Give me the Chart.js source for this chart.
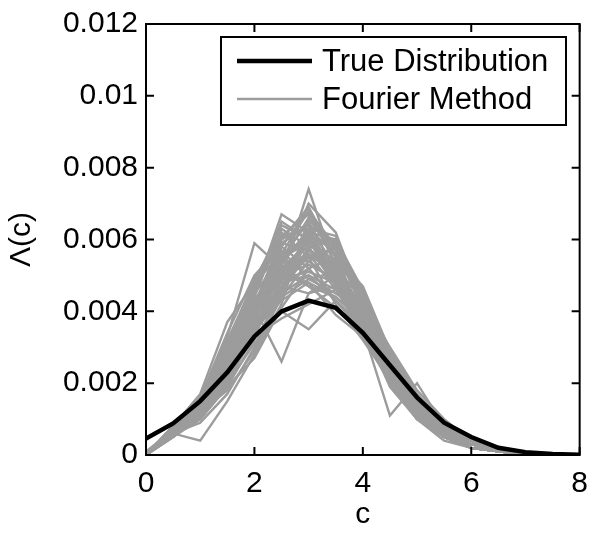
<!DOCTYPE html>
<html>
<head>
<meta charset="utf-8">
<script src="https://cdn.jsdelivr.net/npm/chart.js@4.4.1/dist/chart.umd.min.js"></script>
<style>
  html, body { margin: 0; padding: 0; background: #fff; }
  #wrap { width: 591px; height: 533px; }
</style>
</head>
<body>
<div id="wrap"><canvas id="lambdaChart" width="591" height="533"></canvas></div>
<script>
// c grid (x axis)
const cValues = [0, 0.5, 1, 1.5, 2, 2.5, 3, 3.5, 4, 4.5, 5, 5.5, 6, 6.5, 7, 7.5, 8];

// true distribution (thick black line)
const trueDist = [0.00046, 0.00088, 0.0015, 0.0023, 0.0033, 0.0040, 0.0043, 0.0041, 0.0034, 0.0025, 0.0016, 0.0009, 0.0005, 0.0002, 0.00008, 0.00003, 0.00001];

// estimates by the Fourier method (thin grey lines)
const fourierRuns = [
  [0, 0.0007, 0.0013, 0.0024, 0.0036, 0.0050, 0.0074, 0.0052, 0.0040, 0.0024, 0.0013, 0.0006, 0.0003, 0.0001, 0.00003, 0.00001, 0],
  [0, 0.0008, 0.0015, 0.0030, 0.0045, 0.0067, 0.0062, 0.0050, 0.0037, 0.0022, 0.0012, 0.0006, 0.0003, 0.0001, 0.00004, 0.00001, 0],
  [0.0001, 0.0007, 0.0014, 0.0033, 0.0059, 0.0052, 0.0056, 0.0046, 0.0035, 0.0021, 0.0011, 0.0005, 0.0003, 0.0001, 0.00003, 0, 0],
  [0, 0.0006, 0.0011, 0.0022, 0.0034, 0.0045, 0.0058, 0.0060, 0.0041, 0.0026, 0.0015, 0.0007, 0.0003, 0.0001, 0.00004, 0.00001, 0],
  [0, 0.0006, 0.0004, 0.0015, 0.0028, 0.0042, 0.0066, 0.0055, 0.0039, 0.0025, 0.0014, 0.0007, 0.0003, 0.0001, 0.00003, 0.00001, 0],
  [0, 0.0008, 0.0017, 0.0037, 0.0048, 0.0064, 0.0060, 0.0047, 0.0033, 0.0020, 0.0011, 0.0005, 0.0002, 0.0001, 0.00003, 0, 0],
  [0, 0.0007, 0.0012, 0.0025, 0.0041, 0.0026, 0.0045, 0.0050, 0.0046, 0.0029, 0.0017, 0.0009, 0.0004, 0.0001, 0.00004, 0.00001, 0],
  [0, 0.0006, 0.0010, 0.0020, 0.0031, 0.0040, 0.0035, 0.0043, 0.0036, 0.0026, 0.0016, 0.0008, 0.0004, 0.0002, 0.00005, 0.00001, 0],
  [0, 0.0007, 0.0013, 0.0023, 0.0038, 0.0056, 0.0068, 0.0058, 0.0044, 0.0024, 0.0012, 0.0006, 0.0002, 0.0001, 0.00002, 0, 0],
  [0, 0.0008, 0.0014, 0.0027, 0.0043, 0.0050, 0.0053, 0.0049, 0.0039, 0.0023, 0.0014, 0.0007, 0.0003, 0.0001, 0.00003, 0.00001, 0],
  [0, 0.0007, 0.0012, 0.0018, 0.0029, 0.0044, 0.0061, 0.0057, 0.0043, 0.0028, 0.0015, 0.0008, 0.0003, 0.0001, 0.00004, 0.00001, 0],
  [0, 0.0006, 0.0013, 0.0026, 0.0039, 0.0053, 0.0047, 0.0044, 0.0038, 0.0022, 0.0010, 0.0004, 0.0002, 0.0001, 0.00002, 0, 0],
  [0, 0.0007, 0.0015, 0.0029, 0.0046, 0.0060, 0.0064, 0.0052, 0.0036, 0.0019, 0.0010, 0.0005, 0.0002, 0.0001, 0.00002, 0, 0],
  [0, 0.0006, 0.0009, 0.0017, 0.0030, 0.0047, 0.0057, 0.0053, 0.0046, 0.0027, 0.0013, 0.0006, 0.0003, 0.0001, 0.00003, 0.00001, 0],
  [0, 0.0005, 0.0011, 0.0021, 0.0035, 0.0052, 0.0059, 0.0054, 0.0035, 0.0011, 0.0020, 0.0008, 0.0004, 0.0001, 0.00002, 0, 0],
  [0, 0.0007, 0.0014, 0.0028, 0.0040, 0.0049, 0.0060, 0.0050, 0.0042, 0.0025, 0.0015, 0.0007, 0.0003, 0.0001, 0.00003, 0.00001, 0],
  [0, 0.0008, 0.0016, 0.0031, 0.0049, 0.0062, 0.0055, 0.0042, 0.0032, 0.0021, 0.0012, 0.0005, 0.0002, 0.0001, 0.00002, 0, 0],
  [0, 0.0006, 0.0012, 0.0024, 0.0033, 0.0038, 0.0042, 0.0046, 0.0043, 0.0030, 0.0018, 0.0010, 0.0004, 0.0002, 0.00005, 0.00001, 0],
  [0, 0.0007, 0.0013, 0.0022, 0.0037, 0.0055, 0.0065, 0.0051, 0.0038, 0.0023, 0.0012, 0.0005, 0.0002, 0.0001, 0.00002, 0, 0],
  [0, 0.0006, 0.0011, 0.0020, 0.0034, 0.0049, 0.0051, 0.0048, 0.0041, 0.0026, 0.0014, 0.0007, 0.0003, 0.0001, 0.00003, 0.00001, 0],
  [0, 0.0008, 0.0014, 0.0025, 0.0041, 0.0057, 0.0049, 0.0045, 0.0040, 0.0024, 0.0013, 0.0006, 0.0003, 0.0001, 0.00003, 0, 0],
  [0, 0.0007, 0.0012, 0.0023, 0.0036, 0.0046, 0.0063, 0.0056, 0.0037, 0.0021, 0.0011, 0.0005, 0.0002, 0.0001, 0.00002, 0, 0],
  [0, 0.0005, 0.0010, 0.0019, 0.0032, 0.0044, 0.0054, 0.0058, 0.0045, 0.0028, 0.0016, 0.0008, 0.0004, 0.0001, 0.00004, 0.00001, 0],
  [0, 0.0007, 0.0013, 0.0026, 0.0044, 0.0063, 0.0058, 0.0047, 0.0035, 0.0022, 0.0012, 0.0006, 0.0002, 0.0001, 0.00002, 0, 0],
  [0, 0.0006, 0.0012, 0.0024, 0.0038, 0.0051, 0.0056, 0.0052, 0.0039, 0.0025, 0.0014, 0.0007, 0.0003, 0.0001, 0.00003, 0.00001, 0],
  [0, 0.0007, 0.0014, 0.0027, 0.0035, 0.0043, 0.0048, 0.0039, 0.0033, 0.0023, 0.0015, 0.0008, 0.0004, 0.0001, 0.00004, 0.00001, 0],
  [0, 0.0006, 0.0011, 0.0022, 0.0040, 0.0058, 0.0068, 0.0053, 0.0036, 0.0020, 0.0010, 0.0005, 0.0002, 0.0001, 0.00002, 0, 0],
  [0, 0.0007, 0.0013, 0.0025, 0.0037, 0.0047, 0.0052, 0.0055, 0.0047, 0.0029, 0.0015, 0.0007, 0.0003, 0.0001, 0.00003, 0.00001, 0],
  [0, 0.0008, 0.0015, 0.0029, 0.0042, 0.0054, 0.0061, 0.0049, 0.0038, 0.0024, 0.0013, 0.0006, 0.0003, 0.0001, 0.00003, 0, 0],
  [0, 0.0006, 0.0012, 0.0021, 0.0033, 0.0049, 0.0057, 0.0051, 0.0040, 0.0025, 0.0013, 0.0006, 0.0003, 0.0001, 0.00003, 0.00001, 0],
  [0, 0.0007, 0.0013, 0.0024, 0.0039, 0.0053, 0.0070, 0.0062, 0.0042, 0.0023, 0.0011, 0.0005, 0.0002, 0.0001, 0.00002, 0, 0],
  [0, 0.0006, 0.0012, 0.0023, 0.0035, 0.0045, 0.0050, 0.0046, 0.0042, 0.0027, 0.0016, 0.0008, 0.0003, 0.0001, 0.00004, 0.00001, 0],
  [0, 0.0007, 0.0014, 0.0026, 0.0042, 0.0048, 0.0055, 0.0053, 0.0040, 0.0024, 0.0012, 0.0006, 0.0003, 0.0001, 0.00003, 0, 0],
  [0, 0.0007, 0.0012, 0.0023, 0.0038, 0.0054, 0.0066, 0.0057, 0.0041, 0.0023, 0.0012, 0.0005, 0.0002, 0.0001, 0.00002, 0, 0],
  [0, 0.0006, 0.0013, 0.0025, 0.0041, 0.0050, 0.0048, 0.0044, 0.0037, 0.0026, 0.0015, 0.0007, 0.0003, 0.0001, 0.00003, 0.00001, 0],
  [0, 0.0007, 0.0016, 0.0034, 0.0050, 0.0058, 0.0052, 0.0043, 0.0034, 0.0021, 0.0011, 0.0005, 0.0002, 0.0001, 0.00002, 0, 0],
  [0, 0.0006, 0.0012, 0.0027, 0.0045, 0.0055, 0.0059, 0.0054, 0.0038, 0.0022, 0.0012, 0.0006, 0.0003, 0.0001, 0.00003, 0, 0],
  [0, 0.0008, 0.0015, 0.0030, 0.0047, 0.0061, 0.0063, 0.0050, 0.0035, 0.0020, 0.0010, 0.0005, 0.0002, 0.0001, 0.00002, 0, 0],
  [0, 0.0006, 0.0010, 0.0019, 0.0027, 0.0041, 0.0052, 0.0055, 0.0044, 0.0029, 0.0016, 0.0008, 0.0004, 0.0001, 0.00004, 0.00001, 0],
  [0, 0.0007, 0.0014, 0.0028, 0.0044, 0.0047, 0.0045, 0.0047, 0.0039, 0.0025, 0.0014, 0.0007, 0.0003, 0.0001, 0.00003, 0, 0],
  [0, 0.0005, 0.0011, 0.0024, 0.0040, 0.0059, 0.0064, 0.0059, 0.0043, 0.0024, 0.0012, 0.0005, 0.0002, 0.0001, 0.00002, 0, 0],
  [0, 0.0007, 0.0013, 0.0026, 0.0043, 0.0054, 0.0054, 0.0048, 0.0036, 0.0023, 0.0013, 0.0007, 0.0003, 0.0001, 0.00003, 0.00001, 0],
  [0, 0.0008, 0.0016, 0.0032, 0.0048, 0.0056, 0.0060, 0.0049, 0.0037, 0.0023, 0.0012, 0.0006, 0.0003, 0.0001, 0.00003, 0, 0],
  [0, 0.0006, 0.0012, 0.0022, 0.0035, 0.0054, 0.0062, 0.0060, 0.0046, 0.0026, 0.0013, 0.0006, 0.0002, 0.0001, 0.00002, 0, 0],
  [0, 0.0007, 0.0014, 0.0029, 0.0043, 0.0048, 0.0050, 0.0043, 0.0035, 0.0024, 0.0014, 0.0007, 0.0003, 0.0001, 0.00003, 0.00001, 0],
  [0, 0.0006, 0.0011, 0.0021, 0.0039, 0.0061, 0.0067, 0.0058, 0.0040, 0.0022, 0.0011, 0.0005, 0.0002, 0.0001, 0.00002, 0, 0],
  [0, 0.0007, 0.0012, 0.0024, 0.0041, 0.0052, 0.0058, 0.0056, 0.0045, 0.0027, 0.0014, 0.0006, 0.0003, 0.0001, 0.00003, 0, 0],
  [0, 0.0008, 0.0015, 0.0031, 0.0046, 0.0051, 0.0047, 0.0041, 0.0034, 0.0023, 0.0013, 0.0006, 0.0003, 0.0001, 0.00003, 0.00001, 0],
  [0, 0.0006, 0.0013, 0.0027, 0.0042, 0.0060, 0.0069, 0.0055, 0.0037, 0.0020, 0.0010, 0.0005, 0.0002, 0.0001, 0.00002, 0, 0],
  [0, 0.0007, 0.0013, 0.0025, 0.0038, 0.0050, 0.0061, 0.0058, 0.0042, 0.0025, 0.0013, 0.0006, 0.0003, 0.0001, 0.00003, 0.00001, 0],
  [0, 0.0006, 0.0012, 0.0026, 0.0046, 0.0065, 0.0060, 0.0048, 0.0036, 0.0022, 0.0011, 0.0005, 0.0002, 0.0001, 0.00002, 0, 0],
  [0, 0.0007, 0.0014, 0.0025, 0.0036, 0.0044, 0.0049, 0.0051, 0.0044, 0.0028, 0.0015, 0.0008, 0.0004, 0.0001, 0.00004, 0.00001, 0],
  [0, 0.0007, 0.0013, 0.0028, 0.0047, 0.0059, 0.0057, 0.0052, 0.0040, 0.0023, 0.0012, 0.0006, 0.0002, 0.0001, 0.00002, 0, 0],
  [0, 0.0006, 0.0011, 0.0023, 0.0040, 0.0053, 0.0063, 0.0061, 0.0044, 0.0025, 0.0013, 0.0006, 0.0003, 0.0001, 0.00003, 0, 0],
  [0, 0.0008, 0.0015, 0.0028, 0.0040, 0.0046, 0.0056, 0.0050, 0.0038, 0.0024, 0.0014, 0.0007, 0.0003, 0.0001, 0.00003, 0.00001, 0]
];

const xTicks = [0, 2, 4, 6, 8];
const yTicks = [0, 0.002, 0.004, 0.006, 0.008, 0.01, 0.012];

const FONT = '"Liberation Sans", Arial, Helvetica, sans-serif';

function toPoints(ys) {
  return cValues.map((c, i) => ({ x: c, y: ys[i] }));
}

const datasets = [{
  label: 'True Distribution',
  data: toPoints(trueDist),
  borderColor: '#000000',
  borderWidth: 4.5,
  pointRadius: 0,
  tension: 0
}];
fourierRuns.forEach((run, i) => {
  datasets.push({
    label: i === 0 ? 'Fourier Method' : '',
    data: toPoints(run),
    borderColor: '#9c9c9c',
    borderWidth: 2.4,
    pointRadius: 0,
    tension: 0
  });
});

// box around the axes, inward ticks on all sides, boxed legend (matlab look)
const matlabBox = {
  id: 'matlabBox',
  afterDraw(chart) {
    const ctx = chart.ctx;
    const a = chart.chartArea;
    const xs = chart.scales.x, ys = chart.scales.y;
    const tl = 8;
    ctx.save();
    ctx.strokeStyle = '#000';
    ctx.lineWidth = 2;
    ctx.strokeRect(a.left, a.top, a.right - a.left, a.bottom - a.top);
    ctx.beginPath();
    xTicks.forEach(v => {
      const px = xs.getPixelForValue(v);
      ctx.moveTo(px, a.bottom); ctx.lineTo(px, a.bottom - tl);
      ctx.moveTo(px, a.top); ctx.lineTo(px, a.top + tl);
    });
    yTicks.forEach(v => {
      const py = ys.getPixelForValue(v);
      ctx.moveTo(a.left, py); ctx.lineTo(a.left + tl, py);
      ctx.moveTo(a.right, py); ctx.lineTo(a.right - tl, py);
    });
    ctx.stroke();

    // legend
    const lx = 221, ly = 37, lw = 345, lh = 88;
    ctx.fillStyle = '#fff';
    ctx.fillRect(lx, ly, lw, lh);
    ctx.strokeRect(lx, ly, lw, lh);
    const entries = [chart.data.datasets[0], chart.data.datasets[1]];
    ctx.font = '31px ' + FONT;
    ctx.textBaseline = 'middle';
    entries.forEach((ds, i) => {
      const y = ly + 24 + i * 38;
      ctx.beginPath();
      ctx.strokeStyle = ds.borderColor;
      ctx.lineWidth = ds.borderWidth;
      ctx.moveTo(237, y); ctx.lineTo(312, y);
      ctx.stroke();
      ctx.fillStyle = '#000';
      ctx.fillText(ds.label, 322, y + 1);
    });
    ctx.restore();
  }
};

new Chart(document.getElementById('lambdaChart'), {
  type: 'line',
  data: { datasets: datasets },
  plugins: [matlabBox],
  options: {
    responsive: false,
    animation: false,
    layout: { padding: { left: 0, right: 5, top: 24, bottom: 0 } },
    plugins: {
      legend: { display: false },
      tooltip: { enabled: false }
    },
    scales: {
      x: {
        type: 'linear',
        min: 0,
        max: 8,
        afterFit: s => { s.height = 78; },
        afterBuildTicks: s => { s.ticks = xTicks.map(v => ({ value: v })); },
        grid: { display: false },
        border: { display: false },
        ticks: { color: '#000', font: { family: FONT, size: 30 }, padding: 3, maxRotation: 0 },
        title: { display: true, text: 'c', color: '#000', font: { family: FONT, size: 30 }, padding: { top: 3, bottom: 0 } }
      },
      y: {
        type: 'linear',
        min: 0,
        max: 0.012,
        afterFit: s => { s.width = 146; },
        afterBuildTicks: s => { s.ticks = yTicks.map(v => ({ value: v })); },
        grid: { display: false },
        border: { display: false },
        ticks: {
          color: '#000',
          font: { family: FONT, size: 30 },
          padding: 0,
          callback: v => String(parseFloat(v.toFixed(3)))
        },
        title: { display: true, text: 'Λ(c)', color: '#000', font: { family: FONT, size: 30 }, padding: { top: 4, bottom: 0 } }
      }
    }
  }
});
</script>
</body>
</html>
